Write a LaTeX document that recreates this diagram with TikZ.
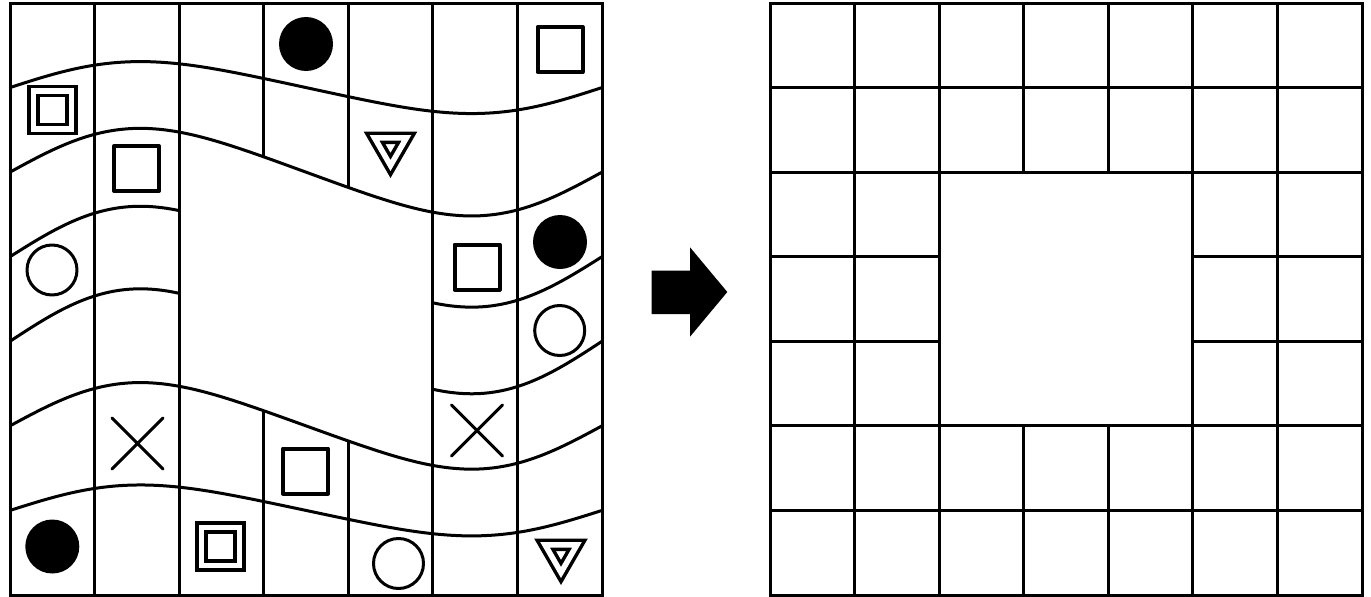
\documentclass[tikz,border=0pt]{standalone}
\usetikzlibrary{shapes.geometric, shapes.misc}

\begin{document}
\begin{tikzpicture}[
    x=1pt, y=-1pt,
    declare function={
        wave(\b,\a,\t) = \b - \a*(sin(360*\t) + 0.1*sin(720*\t));
    },
    gridline/.style={line width=3pt},
    symb/.style={
        draw, line width=3.5pt,
        line join=round,
        inner sep=0pt
    },
    disc/.style={circle, fill, inner sep=0pt, minimum size=54pt},
    ring/.style={symb, circle, line width=3pt, minimum size=50pt},
    box/.style={symb, rectangle, line width=4pt, minimum size=45pt},
    dbox/.style={
        symb, rectangle,
        line join=miter,
        double, double distance=5.5pt,
        minimum size=38pt
    },
    tri/.style={
        symb, regular polygon,
        regular polygon sides=3,
        shape border rotate=180,
        line join=miter,
        double, double distance=5.5pt,
        minimum size=37pt
    },
    cross/.style={draw, cross out, line width=3pt, line cap=round, minimum size=48pt}
]
\useasboundingbox (0,0) rectangle (1371,597);

% ===== LEFT BOARD: FRAME AND COLUMNS =====
\draw[gridline] (10,3) rectangle (602,595);
\foreach \c in {1,2,5,6}
    \draw[gridline] ({10+592*\c/7},3) -- ({10+592*\c/7},595);

% columns 3 and 4 stop at the second and fifth wave
\foreach \c in {3,4} {
    \draw[gridline] ({10+592*\c/7},3) -- ({10+592*\c/7},{wave(172.14,43,\c/7)});
    \draw[gridline] ({10+592*\c/7},{wave(425.86,42.5,\c/7)}) -- ({10+592*\c/7},595);
}

% ===== LEFT BOARD: WAVY ROWS =====
% base / amplitude / start / end (as part of the width)
\foreach \base/\amp/\from/\to in {
    87.57/25.5/0/1,
    172.14/43/0/1,
    256.71/49.5/0/0.2857, 256.71/49.5/0.7143/1,
    341.29/51.5/0/0.2857, 341.29/51.5/0.7143/1,
    425.86/42.5/0/1,
    510.43/25/0/1}
    \draw[gridline] plot[domain=\from:\to, samples=40, smooth]
        ({10+592*\x}, {wave(\base,\amp,\x)});

% ===== LEFT BOARD: SYMBOLS =====
\node[disc] (d1) at (306,44) {};
\node[disc] (d2) at (560,242) {};
\node[disc] (d3) at (52.3,546.5) {};

\node[ring] (r1) at (52,270) {};
\node[ring] (r2) at (559.7,330.5) {};
\node[ring] (r3) at (398.5,563.5) {};

\node[box] (b1) at (560,49.5) {};
\node[box] (b2) at (136.5,168.5) {};
\node[box] (b3) at (477,267) {};
\node[box] (b4) at (305.5,471) {};

\node[dbox] (db1) at (52.3,110) {};
\node[dbox] (db2) at (220.5,546.5) {};

\node[tri] (t1) at (390.5,147) {};
\node[tri] (t2) at (561,554) {};

\node[cross] (x1) at (137.5,443.5) {};
\node[cross] (x2) at (477,430.5) {};

% ===== ARROW =====
\fill (651.7,270.7) -- (690,270.7) -- (690,247.3) -- (727.3,292)
    -- (690,336.7) -- (690,314) -- (651.7,314) -- cycle;

% ===== RIGHT BOARD =====
\draw[gridline] (770,3) rectangle (1362,595);
\foreach \c in {1,2,5,6}
    \draw[gridline] ({770+592*\c/7},3) -- ({770+592*\c/7},595);
\foreach \r in {1,2,5,6}
    \draw[gridline] (770,{3+592*\r/7}) -- (1362,{3+592*\r/7});

% hole in the middle: short pieces only
\foreach \c in {3,4} {
    \draw[gridline] ({770+592*\c/7},3) -- ({770+592*\c/7},172.14);
    \draw[gridline] ({770+592*\c/7},425.86) -- ({770+592*\c/7},595);
}
\foreach \r in {3,4} {
    \draw[gridline] (770,{3+592*\r/7}) -- (939.14,{3+592*\r/7});
    \draw[gridline] (1192.86,{3+592*\r/7}) -- (1362,{3+592*\r/7});
}

\end{tikzpicture}
\end{document}
